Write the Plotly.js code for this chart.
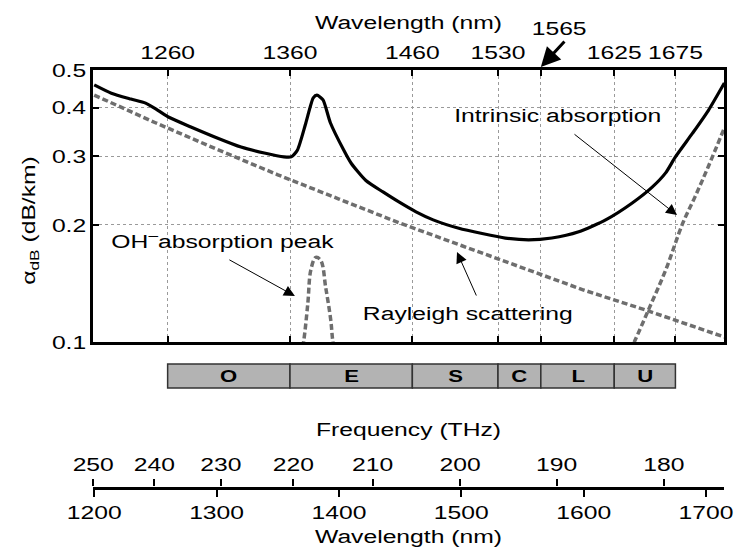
<!DOCTYPE html>
<html><head><meta charset="utf-8">
<script src="https://cdn.plot.ly/plotly-3.0.1.min.js"></script>
<style>html,body{margin:0;padding:0;background:#fff}#chart{width:735px;height:556px}</style>
</head><body><div id="chart"></div>
<script>
// Total attenuation (solid black)
const totalWl  = [1200,1214,1230,1242,1252,1261,1279,1301,1320,1339,1355,1361,1366,1373,1379,1382,1387,1393,1404,1410,1422,1436,1449,1463,1477,1498,1517,1536,1555,1574,1596,1618,1640,1656,1667,1675,1689,1702,1715];
const totalVal = [0.458,0.436,0.421,0.411,0.394,0.378,0.357,0.334,0.317,0.306,0.299,0.299,0.311,0.366,0.424,0.431,0.419,0.366,0.311,0.288,0.260,0.243,0.229,0.216,0.206,0.196,0.190,0.185,0.183,0.185,0.192,0.206,0.228,0.250,0.272,0.299,0.344,0.394,0.463];
// Rayleigh scattering (gray dashed)
const rayWl  = [1200,1250,1300,1350,1400,1450,1500,1550,1600,1650,1700,1715];
const rayVal = [0.431,0.366,0.313,0.269,0.233,0.202,0.177,0.155,0.136,0.121,0.107,0.103];
// OH- absorption peak (gray dashed)
const ohWl  = [1369,1371.3,1374.6,1377,1381.1,1385.2,1389.2,1393.3,1394.9,1397];
const ohVal = [0.092,0.101,0.126,0.153,0.165,0.162,0.138,0.114,0.101,0.092];
// Intrinsic (infrared) absorption (gray dashed)
const intrWl  = [1638,1642,1653,1667,1681,1691,1702,1715];
const intrVal = [0.095,0.101,0.121,0.153,0.202,0.236,0.283,0.355];

// Axes / ticks
const topTicks = [1260,1360,1460,1530,1565,1625,1675];
const topTickText = ['1260','1360','1460','1530','','1625','1675'];
const yTicks = [0.1,0.2,0.3,0.4,0.5];
const yTickText = ['0.1','0.2','0.3','0.4','0.5'];
const wlTicks = [1200,1300,1400,1500,1600,1700];
const freqTicks = [250,240,230,220,210,200,190,180];
// Bands
const bandNames = ['O','E','S','C','L','U'];
const bandEdges = [1260,1360,1460,1530,1565,1625,1675];

const C_NM_THZ = 299792.458;
const freqPos = freqTicks.map(f => C_NM_THZ / f);
const xr = [1199, 1714.7];
const FONT = 'Liberation Sans, Arial, Helvetica, sans-serif';
const FS = 19;
const dashGray = '#6e6e6e';

const traces = [
  {x: rayWl, y: rayVal, xaxis:'x', yaxis:'y', mode:'lines', line:{color:dashGray, width:3.5, dash:'6px,3px'}, hoverinfo:'none'},
  {x: ohWl, y: ohVal, xaxis:'x', yaxis:'y', mode:'lines', line:{color:dashGray, width:3.5, dash:'6px,3px', shape:'spline'}, hoverinfo:'none'},
  {x: intrWl, y: intrVal, xaxis:'x', yaxis:'y', mode:'lines', line:{color:dashGray, width:3.5, dash:'6px,3px', shape:'spline'}, hoverinfo:'none'},
  {x: totalWl, y: totalVal, xaxis:'x', yaxis:'y', mode:'lines', line:{color:'#000', width:3.2, shape:'spline', smoothing:0.6}, hoverinfo:'none'},
  {x: [], y: [], xaxis:'x2', yaxis:'y2', mode:'lines', hoverinfo:'none'},
  {x: [], y: [], xaxis:'x3', yaxis:'y2', mode:'lines', hoverinfo:'none'}
];

const shapes = [];
const annotations = [];
for (let i = 0; i < bandNames.length; i++) {
  shapes.push({type:'rect', xref:'x', yref:'paper', x0:bandEdges[i], x1:bandEdges[i+1], y0:0.2374, y1:0.295,
    fillcolor:'#b3b3b3', line:{color:'#333', width:1.5}, layer:'above'});
  annotations.push({xref:'x', yref:'paper', x:(bandEdges[i]+bandEdges[i+1])/2, y:0.266, text:'<b>'+bandNames[i]+'</b>',
    showarrow:false, font:{family:FONT, size:17, color:'#000'}, xanchor:'center', yanchor:'middle'});
}
// y-axis title (placed as rotated text)
annotations.push({xref:'paper', yref:'paper', x:-0.1, y:0.64, text:'α<sub>dB</sub> (dB/km)', textangle:-90, showarrow:false, font:{family:FONT,size:FS}, xanchor:'center', yanchor:'middle'});
// text labels and arrows
annotations.push({xref:'x', yref:'paper', x:1579, y:0.892, text:'Intrinsic absorption', showarrow:false, font:{family:FONT,size:FS}, xanchor:'center', yanchor:'middle'});
annotations.push({xref:'x', yref:'paper', x:1676.3, y:0.652, text:'', showarrow:true, ax:-104, ay:-82, arrowhead:2, arrowsize:2.2, arrowwidth:1, arrowcolor:'#000'});
annotations.push({xref:'x', yref:'paper', x:1305, y:0.592, text:'OH<sup>–</sup>absorption peak', showarrow:false, font:{family:FONT,size:FS}, xanchor:'center', yanchor:'middle'});
annotations.push({xref:'x', yref:'paper', x:1364, y:0.458, text:'', showarrow:true, ax:-67, ay:-37, arrowhead:2, arrowsize:2.2, arrowwidth:1, arrowcolor:'#000'});
annotations.push({xref:'x', yref:'paper', x:1505.5, y:0.417, text:'Rayleigh scattering', showarrow:false, font:{family:FONT,size:FS}, xanchor:'center', yanchor:'middle'});
annotations.push({xref:'x', yref:'paper', x:1496.5, y:0.5635, text:'', showarrow:true, ax:20, ay:45, arrowhead:2, arrowsize:2.2, arrowwidth:1, arrowcolor:'#000'});
annotations.push({xref:'x', yref:'paper', x:1580, y:1.1007, text:'1565', showarrow:false, font:{family:FONT,size:FS}, xanchor:'center', yanchor:'middle'});
annotations.push({xref:'x', yref:'paper', x:1565, y:1.007, text:'', showarrow:true, ax:25, ay:-27, arrowhead:2, arrowsize:1.3, arrowwidth:3, arrowcolor:'#000'});

const axCommon = {ticks:'inside', ticklen:6, tickwidth:2, tickcolor:'#000', showline:true, linewidth:3, linecolor:'#000',
  mirror:'ticks', showgrid:true, gridcolor:'#9a9a9a', griddash:'dot', gridwidth:1, zeroline:false,
  tickfont:{family:FONT, size:FS, color:'#000'}};

const layout = {
  width:735, height:556,
  margin:{l:93, r:11, t:70, b:69, pad:0},
  paper_bgcolor:'#fff', plot_bgcolor:'rgba(0,0,0,0)',
  font:{family:FONT, size:FS, color:'#000'},
  showlegend:false,
  xaxis: Object.assign({}, axCommon, {domain:[0,1], anchor:'y', side:'top', range:xr, tickvals:topTicks, ticktext:topTickText,
    title:{text:'Wavelength (nm)', font:{family:FONT,size:FS}, standoff:8}}),
  yaxis: Object.assign({}, axCommon, {domain:[0.3477,1], anchor:'x', type:'log', range:[-1, Math.log10(0.5)], tickvals:yTicks, ticktext:yTickText}),
  xaxis2: {domain:[0,1], anchor:'y2', side:'bottom', range:xr, tickvals:wlTicks, ticktext:wlTicks.map(String),
    ticks:'outside', ticklen:7, tickwidth:2, tickcolor:'#000', showline:true, linewidth:2.5, linecolor:'#000',
    showgrid:false, zeroline:false, tickfont:{family:FONT,size:FS,color:'#000'},
    title:{text:'Wavelength (nm)', font:{family:FONT,size:FS}, standoff:8}},
  xaxis3: {domain:[0,1], anchor:'y2', overlaying:'x2', side:'top', range:xr, tickvals:freqPos, ticktext:freqTicks.map(String),
    ticks:'outside', ticklen:7, tickwidth:2, tickcolor:'#000', showline:false,
    showgrid:false, zeroline:false, tickfont:{family:FONT,size:FS,color:'#000'},
    title:{text:'Frequency (THz)', font:{family:FONT,size:FS}, standoff:12}},
  yaxis2: {domain:[0,0.001], anchor:'x2', visible:false, range:[0,1]},
  shapes: shapes,
  annotations: annotations
};

// The reference uses a noticeably wide sans-serif face; widen glyphs horizontally about each text's anchor.
function widenTexts(gd, s) {
  gd.querySelectorAll('svg text').forEach(t => {
    if (!t.textContent.trim()) return;
    let bb;
    try { bb = t.getBBox(); } catch (e) { return; }
    if (!bb || !bb.width) return;
    const anchor = t.getAttribute('text-anchor') || 'start';
    const ax = anchor === 'middle' ? bb.x + bb.width / 2 : (anchor === 'end' ? bb.x + bb.width : bb.x);
    const old = t.getAttribute('transform') || '';
    t.setAttribute('transform', (old + ' translate(' + ax + ',0) scale(' + s + ',1) translate(' + (-ax) + ',0)').trim());
  });
}

Plotly.newPlot('chart', traces, layout, {displayModeBar:false, staticPlot:true}).then(gd => widenTexts(gd, 1.3));
</script>
</body></html>
